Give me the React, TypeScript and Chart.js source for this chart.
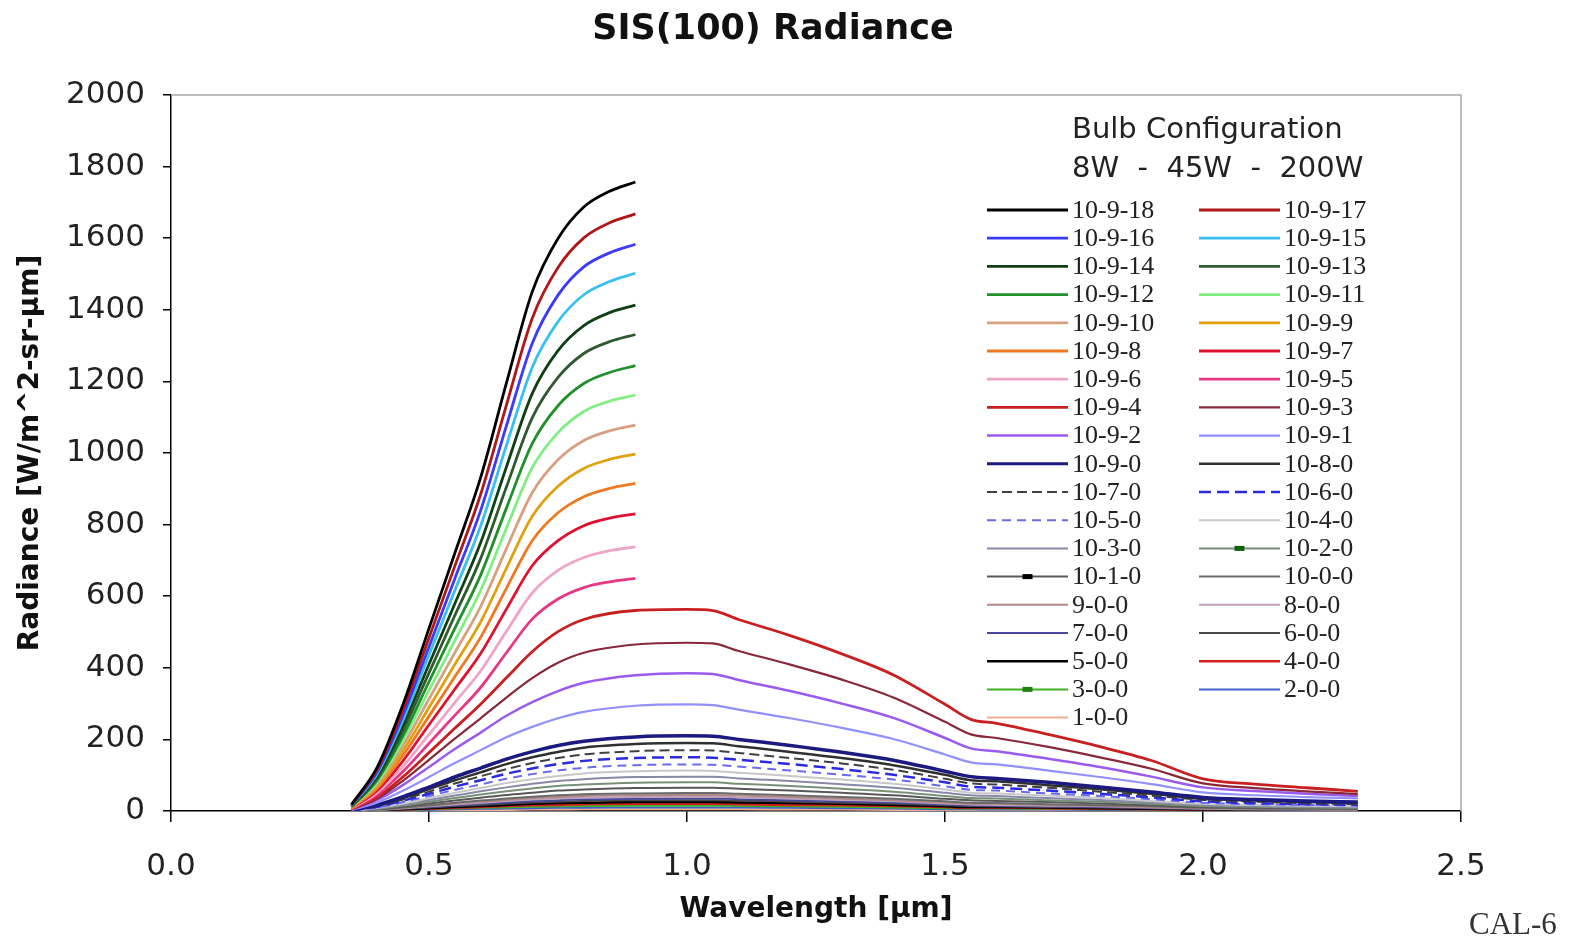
import React, { useEffect, useRef } from "react";
import { Chart, registerables } from "chart.js";
Chart.register(...registerables);

// ---------- data ----------
const TITLE = "SIS(100) Radiance";
const X_TITLE = "Wavelength [µm]";
const Y_TITLE = "Radiance [W/m^2-sr-µm]";
const LEGEND_HEAD = ["Bulb Configuration", "8W  -  45W  -  200W"];
const FOOTNOTE = "CAL-6";

const X_TICK_MIN = 0, X_TICK_MAX = 2.5, X_TICK_STEP = 0.5;
const Y_TICK_MIN = 0, Y_TICK_MAX = 2000, Y_TICK_STEP = 200;

// wavelengths (µm)
const X_SHORT = [0.35, 0.4, 0.45, 0.5, 0.55, 0.6, 0.65, 0.7, 0.75, 0.8, 0.85, 0.9];
const X_LONG = [0.35, 0.4, 0.45, 0.5, 0.55, 0.6, 0.65, 0.7, 0.75, 0.8, 0.9, 1.0, 1.05, 1.1, 1.2, 1.3, 1.4, 1.5, 1.55, 1.6, 1.7, 1.8, 1.9, 2.0, 2.1, 2.2, 2.3];

// radiance series (W/m^2-sr-µm)
const R_10_9_18 = [18, 123, 299, 510, 720, 931, 1195, 1450, 1599, 1687, 1731, 1757];
const R_10_9_17 = [17, 117, 284, 484, 684, 884, 1134, 1376, 1518, 1601, 1643, 1668];
const R_10_9_16 = [16, 111, 269, 459, 649, 839, 1076, 1306, 1441, 1520, 1559, 1583];
const R_10_9_15 = [15, 105, 255, 436, 616, 796, 1021, 1239, 1367, 1442, 1479, 1502];
const R_10_9_14 = [14, 99, 240, 410, 579, 749, 961, 1166, 1286, 1356, 1392, 1413];
const R_10_9_13 = [13, 93, 226, 386, 546, 705, 905, 1098, 1211, 1278, 1311, 1331];
const R_10_9_12 = [12, 87, 211, 361, 510, 659, 846, 1026, 1132, 1194, 1225, 1244];
const R_10_9_11 = [12, 81, 198, 337, 476, 616, 790, 959, 1057, 1116, 1145, 1162];
const R_10_9_10 = [11, 75, 183, 313, 442, 571, 733, 889, 981, 1035, 1062, 1078];
const R_10_9_9 = [10, 70, 169, 289, 409, 528, 678, 823, 907, 957, 982, 997];
const R_10_9_8 = [9, 64, 156, 265, 375, 485, 622, 755, 833, 878, 901, 915];
const R_10_9_7 = [8, 58, 141, 241, 340, 440, 564, 685, 755, 797, 818, 830];
const R_10_9_6 = [7, 52, 125, 214, 303, 391, 502, 609, 672, 708, 727, 738];
const R_10_9_5 = [7, 46, 111, 189, 267, 345, 442, 536, 592, 624, 640, 650];
const R_10_9_4 = [6, 39, 96, 163, 231, 298, 372, 445, 501, 535, 560, 563, 560, 535, 490, 439, 380, 298, 256, 245, 214, 180, 141, 90, 75, 65, 55];
const R_10_9_3 = [5, 35, 85, 143, 202, 259, 317, 371, 414, 442, 465, 470, 468, 447, 409, 367, 317, 249, 214, 204, 179, 150, 118, 77, 64, 55, 47];
const R_10_9_2 = [4, 31, 73, 123, 173, 219, 266, 304, 335, 358, 379, 385, 383, 366, 335, 300, 260, 204, 175, 167, 146, 123, 96, 66, 56, 48, 42];
const R_10_9_1 = [3, 24, 57, 95, 134, 170, 206, 235, 259, 277, 294, 298, 296, 283, 259, 232, 201, 158, 136, 130, 113, 95, 75, 52, 44, 39, 35];
const R_10_9_0 = [2, 17, 40, 67, 95, 120, 145, 166, 183, 195, 207, 210, 209, 200, 183, 164, 142, 111, 96, 91, 80, 67, 53, 38, 32, 28, 25];
const R_10_8_0 = [2, 15, 36, 61, 86, 108, 131, 150, 165, 177, 187, 190, 189, 181, 165, 148, 128, 101, 86, 83, 72, 61, 48, 34, 29, 25, 22];
const R_10_7_0 = [2, 14, 32, 54, 77, 97, 117, 134, 148, 158, 167, 170, 169, 162, 148, 133, 115, 90, 77, 74, 65, 54, 43, 31, 26, 22, 19];
const R_10_6_0 = [2, 12, 29, 48, 68, 86, 104, 119, 131, 140, 148, 150, 149, 143, 131, 117, 101, 80, 68, 65, 57, 48, 38, 27, 22, 19, 17];
const R_10_5_0 = [1, 10, 25, 42, 59, 74, 90, 103, 113, 121, 128, 130, 129, 124, 113, 101, 88, 69, 59, 57, 49, 42, 33, 23, 19, 17, 15];
const R_10_4_0 = [1, 9, 21, 36, 51, 64, 78, 89, 98, 105, 111, 113, 112, 107, 98, 88, 76, 60, 51, 49, 43, 36, 28, 20, 17, 15, 13];
const R_10_3_0 = [1, 8, 18, 31, 43, 55, 66, 76, 84, 89, 95, 96, 96, 91, 84, 75, 65, 51, 44, 42, 36, 31, 24, 17, 14, 12, 11];
const R_10_2_0 = [1, 6, 15, 26, 36, 46, 55, 63, 70, 74, 79, 80, 80, 76, 70, 62, 54, 42, 36, 35, 30, 26, 20, 14, 12, 10, 9];
const R_10_1_0 = [1, 5, 12, 21, 29, 37, 45, 51, 57, 60, 64, 65, 65, 62, 57, 51, 44, 34, 30, 28, 25, 21, 16, 11, 9, 8, 7];
const R_10_0_0 = [1, 4, 10, 16, 23, 29, 35, 40, 44, 47, 49, 50, 50, 48, 44, 39, 34, 27, 23, 22, 19, 16, 13, 9, 7, 6, 5];
const R_9_0_0 = [0, 4, 9, 14, 20, 26, 31, 36, 39, 42, 44, 45, 45, 43, 39, 35, 30, 24, 20, 20, 17, 14, 11, 8, 6, 5, 4];
const R_8_0_0 = [0, 3, 8, 13, 18, 23, 28, 32, 35, 37, 39, 40, 40, 38, 35, 31, 27, 21, 18, 17, 15, 13, 10, 7, 5, 5, 4];
const R_7_0_0 = [0, 3, 7, 11, 16, 20, 24, 28, 30, 33, 34, 35, 35, 33, 30, 27, 24, 19, 16, 15, 13, 11, 9, 6, 5, 4, 3];
const R_6_0_0 = [0, 2, 6, 10, 14, 17, 21, 24, 26, 28, 30, 30, 30, 29, 26, 23, 20, 16, 14, 13, 11, 10, 8, 5, 4, 3, 3];
const R_5_0_0 = [0, 2, 5, 8, 11, 14, 17, 20, 22, 23, 25, 25, 25, 24, 22, 20, 17, 13, 11, 11, 10, 8, 6, 4, 3, 3, 2];
const R_4_0_0 = [0, 2, 4, 6, 9, 11, 14, 16, 17, 19, 20, 20, 20, 19, 17, 16, 14, 11, 9, 9, 8, 6, 5, 3, 3, 2, 2];
const R_3_0_0 = [0, 1, 3, 5, 7, 9, 10, 12, 13, 14, 15, 15, 15, 14, 13, 12, 10, 8, 7, 7, 6, 5, 4, 2, 2, 2, 1];
const R_2_0_0 = [0, 1, 2, 3, 5, 6, 7, 8, 9, 9, 10, 10, 10, 10, 9, 8, 7, 5, 5, 4, 4, 3, 3, 2, 1, 1, 1];
const R_1_0_0 = [0, 0, 1, 2, 2, 3, 3, 4, 4, 5, 5, 5, 5, 5, 4, 4, 3, 3, 2, 2, 2, 2, 1, 1, 1, 1, 0];

const SERIES_LABELS = [
  "10-9-18", "10-9-17", "10-9-16", "10-9-15", "10-9-14", "10-9-13", "10-9-12", "10-9-11",
  "10-9-10", "10-9-9", "10-9-8", "10-9-7", "10-9-6", "10-9-5", "10-9-4", "10-9-3",
  "10-9-2", "10-9-1", "10-9-0", "10-8-0", "10-7-0", "10-6-0", "10-5-0", "10-4-0",
  "10-3-0", "10-2-0", "10-1-0", "10-0-0", "9-0-0", "8-0-0", "7-0-0", "6-0-0",
  "5-0-0", "4-0-0", "3-0-0", "2-0-0", "1-0-0",
];
const SERIES_VALUES = [
  R_10_9_18, R_10_9_17, R_10_9_16, R_10_9_15, R_10_9_14, R_10_9_13, R_10_9_12, R_10_9_11,
  R_10_9_10, R_10_9_9, R_10_9_8, R_10_9_7, R_10_9_6, R_10_9_5, R_10_9_4, R_10_9_3,
  R_10_9_2, R_10_9_1, R_10_9_0, R_10_8_0, R_10_7_0, R_10_6_0, R_10_5_0, R_10_4_0,
  R_10_3_0, R_10_2_0, R_10_1_0, R_10_0_0, R_9_0_0, R_8_0_0, R_7_0_0, R_6_0_0,
  R_5_0_0, R_4_0_0, R_3_0_0, R_2_0_0, R_1_0_0,
];

// ---------- styles ----------
const COLORS = [
  "#000000", "#b01818", "#3a3aff", "#38c0f0", "#0f3f12", "#2f5a30", "#20902a", "#80ee80",
  "#d8a080", "#e0a010", "#f07820", "#e01030", "#f0a4c8", "#e63882", "#c82020", "#882838",
  "#9a5af0", "#9090ff", "#1a1a80", "#303030", "#404040", "#2a2ae0", "#6a6af0", "#c8c8c8",
  "#8888a8", "#789078", "#585858", "#6a6a6a", "#b08888", "#c0a0b8", "#4848a0", "#484848",
  "#000000", "#d02020", "#40b020", "#4060d0", "#f0b090",
];
const WIDTHS = [
  2.8, 2.8, 2.8, 2.8, 2.8, 2.8, 2.8, 2.8,
  2.8, 2.8, 2.8, 2.8, 2.8, 2.8, 2.8, 2.2, 2.5, 2.2, 3.5, 2.5, 2, 2.5, 2, 2,
  2, 2, 2, 2, 2, 2, 2, 2, 2.5, 2.5, 2, 2, 2,
];
const DASHES: Record<string, number[]> = {
  "10-7-0": [10, 5],
  "10-6-0": [12, 6],
  "10-5-0": [9, 6],
};
const MARKERS: Record<string, string> = {
  "10-2-0": "#106010",
  "10-1-0": "#000000",
  "3-0-0": "#208010",
};

const FONT_SANS = '"DejaVu Sans", sans-serif';
const FONT_SERIF = '"Liberation Serif", "Times New Roman", serif';

const W = 1583, H = 941;

const textPlugin = {
  id: "extraText",
  afterDraw(chart: any) {
    const ctx = chart.ctx as CanvasRenderingContext2D;
    const a = chart.chartArea;
    ctx.save();
    // plot frame (top/right in gray)
    ctx.strokeStyle = "#a8a8a8";
    ctx.lineWidth = 1.5;
    ctx.setLineDash([]);
    ctx.beginPath();
    ctx.moveTo(a.left, a.top);
    ctx.lineTo(a.right, a.top);
    ctx.lineTo(a.right, a.bottom);
    ctx.stroke();

    // title
    ctx.fillStyle = "#111";
    ctx.textBaseline = "middle";
    ctx.textAlign = "center";
    ctx.font = `bold 35px ${FONT_SANS}`;
    ctx.fillText(TITLE, 773, 30);

    // footnote
    ctx.textAlign = "left";
    ctx.font = `31px ${FONT_SERIF}`;
    ctx.fillStyle = "#333";
    ctx.fillText(FOOTNOTE, 1469, 926);

    // legend header
    ctx.fillStyle = "#222";
    ctx.font = `29px ${FONT_SANS}`;
    ctx.fillText(LEGEND_HEAD[0], 1072, 130);
    ctx.fillText(LEGEND_HEAD[1], 1072, 169);

    // legend entries
    ctx.font = `26px ${FONT_SERIF}`;
    chart.data.datasets.forEach((ds: any, i: number) => {
      const col = i % 2;
      const row = Math.floor(i / 2);
      const x0 = col ? 1199 : 987;
      const x1 = x0 + 81;
      const y = 210 + row * 28.2;
      ctx.strokeStyle = ds.borderColor;
      ctx.lineWidth = Math.min(ds.borderWidth, 3);
      ctx.setLineDash(ds.borderDash || []);
      ctx.beginPath();
      ctx.moveTo(x0, y);
      ctx.lineTo(x1, y);
      ctx.stroke();
      ctx.setLineDash([]);
      const m = MARKERS[ds.label];
      if (m) {
        ctx.fillStyle = m;
        ctx.fillRect((x0 + x1) / 2 - 5, y - 2.5, 10, 5);
      }
      ctx.fillStyle = "#222";
      ctx.fillText(ds.label, x1 + 4, y + 1);
    });
    ctx.restore();
  },
};

export default function App() {
  const ref = useRef<HTMLCanvasElement | null>(null);
  useEffect(() => {
    if (!ref.current) return;
    const datasets = SERIES_LABELS.map((label, i) => {
      const ys = SERIES_VALUES[i];
      const xs = ys.length === X_SHORT.length ? X_SHORT : X_LONG;
      return {
        label,
        data: ys.map((v, j) => ({ x: xs[j], y: v })),
        borderColor: COLORS[i],
        backgroundColor: COLORS[i],
        borderWidth: WIDTHS[i],
        borderDash: DASHES[label] || [],
        pointRadius: 0,
        cubicInterpolationMode: "monotone" as const,
        fill: false,
      };
    });
    const chart = new Chart(ref.current, {
      type: "line",
      data: { datasets },
      options: {
        animation: false,
        responsive: false,
        maintainAspectRatio: false,
        layout: { padding: { left: 0, top: 95, right: W - 1461, bottom: 0 } },
        plugins: { legend: { display: false }, title: { display: false }, tooltip: { enabled: false } },
        scales: {
          x: {
            type: "linear",
            min: X_TICK_MIN,
            max: X_TICK_MAX,
            afterFit: (s: any) => { s.height = H - 811; },
            ticks: {
              stepSize: X_TICK_STEP,
              padding: 26,
              color: "#222",
              font: { family: FONT_SANS, size: 31 },
              callback: (v: any) => Number(v).toFixed(1),
              maxRotation: 0,
            },
            grid: { drawOnChartArea: false, drawTicks: true, tickLength: 11, color: "#000", lineWidth: 1.5 },
            border: { display: true, color: "#000", width: 1.5 },
            title: { display: true, text: X_TITLE, color: "#111", font: { family: FONT_SANS, size: 28, weight: "bold" }, padding: { top: 0, bottom: 14 } },
          },
          y: {
            type: "linear",
            min: Y_TICK_MIN,
            max: Y_TICK_MAX,
            afterFit: (s: any) => { s.width = 171; },
            ticks: {
              stepSize: Y_TICK_STEP,
              padding: 18,
              color: "#222",
              font: { family: FONT_SANS, size: 31 },
              callback: (v: any) => String(v),
            },
            grid: { drawOnChartArea: false, drawTicks: true, tickLength: 8, color: "#000", lineWidth: 1.5 },
            border: { display: true, color: "#000", width: 1.5 },
            title: { display: true, text: Y_TITLE, color: "#111", font: { family: FONT_SANS, size: 28, weight: "bold" }, padding: { top: 14, bottom: 0 } },
          },
        },
      },
      plugins: [textPlugin],
    });
    return () => chart.destroy();
  }, []);
  return (
    <div style={{ position: "absolute", left: 0, top: 0, width: W, height: H, background: "#fff" }}>
      <canvas ref={ref} width={W} height={H} />
    </div>
  );
}
